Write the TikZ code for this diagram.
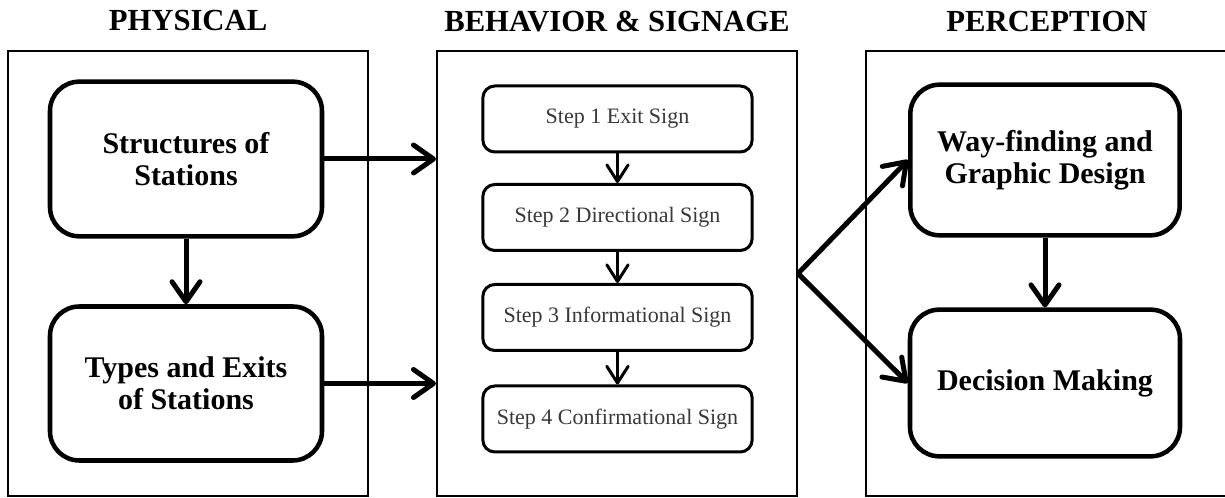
\documentclass[tikz,border=0pt]{standalone}
\usepackage{fontspec}
\setmainfont{Liberation Serif}
\usetikzlibrary{arrows.meta,positioning}

\tikzset{every picture/.style={line width=0.75pt}}
\tikzset{
  frame/.style={draw, line width=1.5pt, minimum width=270pt, minimum height=333.75pt, inner sep=0pt},
  title/.style={font=\fontsize{23}{25}\selectfont\bfseries},
  bigbox/.style={draw, line width=3.4pt, rounded corners=22pt, align=center,
    font=\fontsize{22.5}{24}\selectfont\bfseries, minimum width=204pt, minimum height=116pt},
  stepbox/.style={draw, line width=2.25pt, rounded corners=9pt, text=black!78,
    font=\fontsize{16.5}{18}\selectfont, minimum width=202pt, minimum height=49.5pt},
  bigarrow/.style={line width=3.75pt, -{Straight Barb[length=15pt,width=21pt,round]}},
  smallarrow/.style={line width=2.25pt, -{Straight Barb[length=12.5pt,width=16pt,round]}}
}

\begin{document}
\begin{tikzpicture}[x=0.75pt,y=0.75pt,yscale=-1,xscale=1]
\useasboundingbox (0,0) rectangle (1225,498);

% frames and titles
\node [frame] (phys) at (188,273.5) {};
\node [frame] (behav) at (617,273.5) {};
\node [frame, minimum width=285pt] (percep) at (1056,273.5) {};

\node [title] (tphys) at (188,21) {PHYSICAL};
\node [title] (tbehav) at (617,22) {BEHAVIOR \& SIGNAGE};
\node [title] (tpercep) at (1047,22) {PERCEPTION};

% physical
\node [bigbox] (struct) at (186,159) {Structures of\\Stations};
\node [bigbox, minimum height=115.5pt] (types) at (186,383.5) {Types and Exits\\of Stations};

% behavior & signage
\node [stepbox] (step1) at (617.5,119) {Step 1 Exit Sign};
\node [stepbox] (step2) at (617.5,217.5) {Step 2 Directional Sign};
\node [stepbox] (step3) at (617.5,317.5) {Step 3 Informational Sign};
\node [stepbox] (step4) at (617.5,419) {Step 4 Confirmational Sign};

% perception
\node [bigbox, minimum width=202pt, minimum height=113pt] (wayfind) at (1045,160) {Way-finding and\\Graphic Design};
\node [bigbox, minimum width=202.5pt, minimum height=110pt] (decide) at (1045,383) {Decision Making};

\draw [bigarrow] (struct.south) -- (types.north);
\draw [bigarrow] (struct.east) -- (behav.west |- struct.east);
\draw [bigarrow] (types.east) -- (behav.west |- types.east);

\draw [smallarrow] (step1) -- (step2);
\draw [smallarrow] (step2) -- (step3);
\draw [smallarrow] (step3) -- (step4);

\draw [bigarrow] (behav.east) -- (wayfind.west);
\draw [bigarrow] (behav.east) -- (decide.west);
\draw [bigarrow] (wayfind.south) -- (decide.north);

\end{tikzpicture}
\end{document}
